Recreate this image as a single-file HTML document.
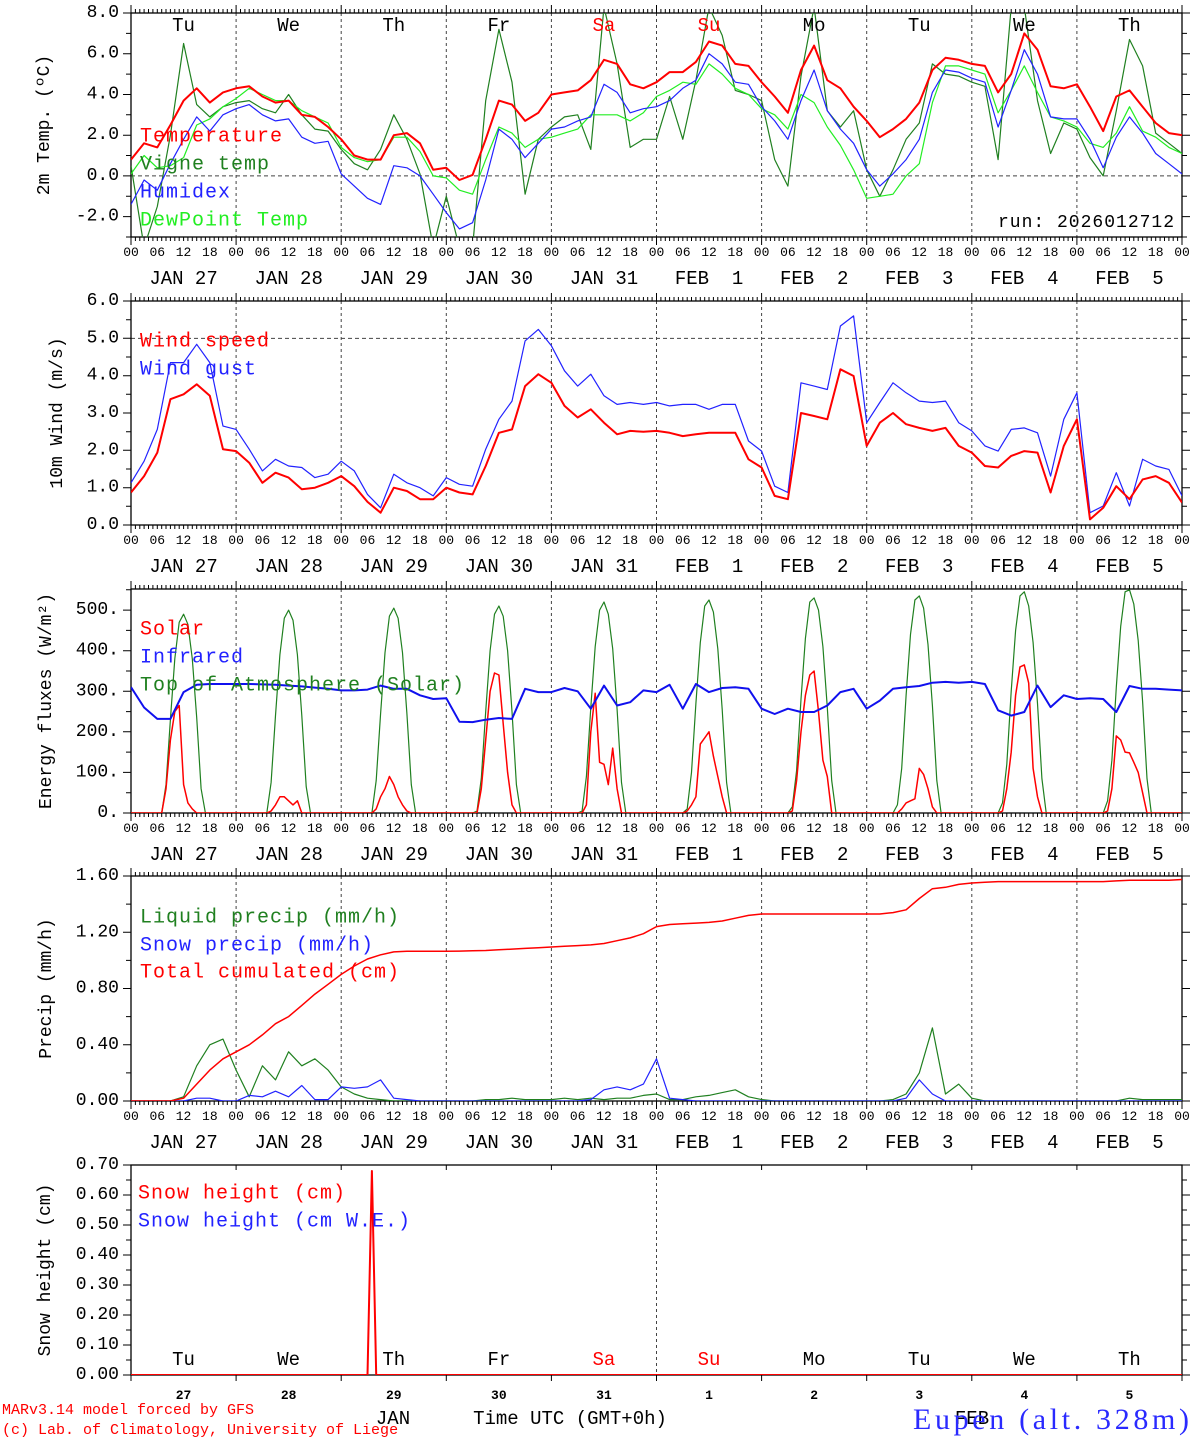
<!DOCTYPE html>
<html><head><meta charset="utf-8"><title>MAR meteogram Eupen</title>
<style>
html,body{margin:0;padding:0;background:#fff;}
svg{display:block;font-family:"Liberation Mono",monospace;}
</style></head>
<body>
<svg id="chart" xmlns="http://www.w3.org/2000/svg" width="1194" height="1440" viewBox="0 0 1194 1440">
<rect x="0" y="0" width="1194" height="1440" fill="#fff"/>
<text x="998" y="227" font-size="18" letter-spacing="1" fill="#000">run: 2026012712</text>
<text x="2" y="1414" font-size="15" fill="#f00">MARv3.14 model forced by GFS</text>
<text x="2" y="1434" font-size="15" fill="#f00">(c) Lab. of Climatology, University of Liege</text>
<text x="393" y="1424" font-size="19" text-anchor="middle" fill="#000">JAN</text>
<text x="972" y="1424" font-size="19" text-anchor="middle" fill="#000">FEB</text>
<text x="570" y="1424" font-size="19" text-anchor="middle" fill="#000">Time UTC (GMT+0h)</text>
<text x="913" y="1429" font-size="30" textLength="276" font-family="Liberation Serif,serif" fill="#2a2aff">Eupen (alt. 328m)</text>
</svg>
<script>
// ---------- data (3-hourly, 81 points from JAN 27 00 UTC) ----------
const dayNames = ['Tu','We','Th','Fr','Sa','Su','Mo','Tu','We','Th'];
const dateLabels = ['JAN 27','JAN 28','JAN 29','JAN 30','JAN 31','FEB  1','FEB  2','FEB  3','FEB  4','FEB  5'];
const dayNums = ['27','28','29','30','31','1','2','3','4','5'];
const hourLabels = ['00','06','12','18'];

const temp = [0.8,1.6,1.4,2.5,3.7,4.3,3.6,4.1, 4.3,4.4,3.9,3.6,3.7,3.0,2.9,2.4, 1.8,1.0,0.8,0.8,2.0,2.1,1.6,0.3, 0.4,-0.2,0.05,1.8,3.7,3.5,2.7,3.1, 4.0,4.1,4.2,4.7,5.7,5.5,4.5,4.3, 4.6,5.1,5.1,5.6,6.6,6.4,5.5,5.4, 4.6,3.9,3.1,5.2,6.4,4.7,4.3,3.4, 2.7,1.9,2.3,2.8,3.6,5.2,5.8,5.7, 5.5,5.4,4.1,5.0,7.0,6.2,4.4,4.3, 4.5,3.4,2.2,3.9,4.2,3.4,2.6,2.1,2.0];
const vigne = [0.5,-3.5,-1.5,2.0,6.5,3.5,2.9,3.4, 3.6,3.7,3.3,3.1,4.0,3.0,2.3,2.2, 1.3,0.6,0.3,1.3,3.0,1.8,0.1,-3.5, -1.0,-3.5,-3.5,3.7,7.2,4.6,-0.9,1.8, 2.4,2.9,3.0,1.3,8.3,5.5,1.4,1.8, 1.8,3.9,1.8,4.7,8.3,6.9,4.2,4.0, 3.7,0.8,-0.5,4.9,8.3,3.2,2.4,3.2, 0.3,-1.0,0.3,1.8,2.6,5.5,5.0,4.9, 4.6,4.4,0.8,8.3,8.3,3.7,1.1,2.6, 2.3,0.9,0.0,3.2,6.7,5.4,2.1,1.6,1.1];
const humidex = [-1.4,-0.2,-0.7,0.6,1.8,2.9,2.2,3.0, 3.3,3.5,3.0,2.7,2.8,1.9,1.6,1.7, 0.1,-0.5,-1.1,-1.4,0.5,0.4,0.0,-0.9, -1.8,-2.6,-2.3,-0.2,2.3,1.8,0.9,1.6, 2.3,2.4,2.7,2.9,4.5,4.1,3.1,3.3, 3.4,3.7,4.3,4.7,6.0,5.5,4.6,4.5, 3.4,2.7,1.8,3.7,5.2,3.2,2.3,1.6, 0.3,-0.5,0.1,0.8,1.8,4.1,5.2,5.1, 4.8,4.6,2.4,4.2,6.2,5.0,2.9,2.8, 2.8,1.8,0.4,1.9,2.9,2.1,1.1,0.6,0.1];
const dewpoint = [0.1,1.0,0.4,0.5,0.9,2.5,2.8,3.4, 3.8,4.3,4.0,3.7,3.7,3.2,2.9,2.6, 1.4,0.9,0.7,0.8,1.9,1.9,1.2,0.0, -0.1,-0.7,-0.9,0.8,2.4,2.1,1.4,1.8, 1.9,2.1,2.3,3.0,3.0,3.0,2.7,3.1, 3.9,4.2,4.6,4.5,5.5,5.0,4.3,4.0, 3.3,3.0,2.3,4.0,3.6,2.4,1.5,0.3, -1.1,-1.0,-0.9,0.0,0.6,3.6,5.4,5.4, 5.2,5.0,3.1,4.2,5.4,4.1,2.9,2.7, 2.4,1.6,1.4,2.1,3.4,2.2,1.9,1.4,1.1];

const windSpeed = [0.87,1.31,1.94,3.37,3.5,3.77,3.46,2.03, 1.98,1.67,1.13,1.40,1.27,0.96,1.0,1.13, 1.31,1.04,0.62,0.33,1.0,0.91,0.69,0.69, 1.0,0.87,0.82,1.58,2.47,2.56,3.72,4.04, 3.81,3.19,2.88,3.1,2.74,2.43,2.52,2.5, 2.52,2.47,2.38,2.43,2.47,2.47,2.47,1.76, 1.54,0.78,0.69,3.0,2.92,2.83,4.17,3.99, 2.12,2.74,3.0,2.7,2.6,2.52,2.6,2.12, 1.94,1.58,1.54,1.85,1.98,1.94,0.87,2.12, 2.83,0.15,0.46,1.04,0.69,1.22,1.31,1.13,0.6];
const windGust = [1.13,1.71,2.56,4.35,4.35,4.84,4.35,2.65, 2.56,2.03,1.45,1.76,1.58,1.54,1.27,1.36, 1.71,1.45,0.82,0.46,1.36,1.13,1.0,0.78, 1.27,1.09,1.04,2.03,2.83,3.32,4.93,5.24, 4.8,4.13,3.72,4.04,3.46,3.23,3.28,3.23, 3.28,3.19,3.23,3.23,3.1,3.23,3.23,2.25, 1.98,1.04,0.87,3.81,3.72,3.63,5.33,5.6, 2.74,3.28,3.81,3.54,3.32,3.28,3.32,2.74, 2.52,2.12,1.98,2.56,2.6,2.47,1.31,2.83, 3.54,0.33,0.51,1.4,0.51,1.76,1.58,1.49,0.78];

const infrared = [310,260,232,232,298,316,318,318, 318,318,317,316,314,312,309,306, 302,302,304,314,306,306,290,281, 283,225,224,230,234,232,306,298, 298,308,300,257,314,265,273,302, 298,316,257,318,298,308,310,306, 257,244,257,249,249,265,298,306, 257,277,306,310,313,321,323,321, 323,318,253,240,249,314,261,290, 281,283,281,249,313,306,306,304,302];

// hourly (241 points)
const toaSolar = [
0,0,0,0,0,0,0,0,70,230,380,470,490,465,380,235,60,0,0,0,0,0,0,0,
0,0,0,0,0,0,0,0,75,240,390,480,500,475,390,240,65,0,0,0,0,0,0,0,
0,0,0,0,0,0,0,0,80,245,395,485,505,480,395,245,70,0,0,0,0,0,0,0,
0,0,0,0,0,0,0,5,85,250,400,490,510,485,400,250,70,0,0,0,0,0,0,0,
0,0,0,0,0,0,0,5,90,260,410,500,520,490,405,255,75,0,0,0,0,0,0,0,
0,0,0,0,0,0,0,10,100,270,420,510,525,495,405,255,75,0,0,0,0,0,0,0,
0,0,0,0,0,0,0,15,105,280,430,520,530,500,410,260,80,0,0,0,0,0,0,0,
0,0,0,0,0,0,0,20,110,290,440,525,535,505,415,265,80,0,0,0,0,0,0,0,
0,0,0,0,0,0,0,25,120,300,450,535,545,510,420,270,85,0,0,0,0,0,0,0,
0,0,0,0,0,0,0,30,130,310,460,545,550,515,425,275,85,0,0,0,0,0,0,0,
0];
const solar = [
0,0,0,0,0,0,0,0,60,180,250,265,70,25,10,0,0,0,0,0,0,0,0,0,
0,0,0,0,0,0,0,0,5,20,40,40,30,20,30,0,0,0,0,0,0,0,0,0,
0,0,0,0,0,0,0,0,10,40,60,90,70,40,20,5,0,0,0,0,0,0,0,0,
0,0,0,0,0,0,0,0,60,180,300,345,340,220,100,20,0,0,0,0,0,0,0,0,
0,0,0,0,0,0,0,0,20,200,295,125,120,70,160,60,0,0,0,0,0,0,0,0,
0,0,0,0,0,0,0,5,20,40,170,185,200,140,90,40,0,0,0,0,0,0,0,0,
0,0,0,0,0,0,0,5,80,200,290,340,350,250,130,90,0,0,0,0,0,0,0,0,
0,0,0,0,0,0,0,0,10,25,30,35,110,95,60,15,0,0,0,0,0,0,0,0,
0,0,0,0,0,0,0,5,60,150,290,360,365,320,110,40,0,0,0,0,0,0,0,0,
0,0,0,0,0,0,0,5,60,190,180,150,148,125,100,50,0,0,0,0,0,0,0,0,
0];

const cumulPrecip = [0,0,0,0,0.02,0.12,0.22,0.30, 0.35,0.40,0.47,0.55,0.60,0.68,0.76,0.83, 0.90,0.96,1.01,1.04,1.06,1.065,1.065,1.065, 1.065,1.066,1.068,1.07,1.075,1.08,1.085,1.09, 1.095,1.10,1.105,1.11,1.12,1.14,1.16,1.19, 1.24,1.255,1.26,1.265,1.27,1.28,1.30,1.32, 1.33,1.33,1.33,1.33,1.33,1.33,1.33,1.33, 1.33,1.33,1.34,1.36,1.44,1.51,1.52,1.54, 1.55,1.555,1.56,1.56,1.56,1.56,1.56,1.56, 1.56,1.56,1.56,1.565,1.57,1.57,1.57,1.57,1.575];
const liquidPrecip = [0,0,0,0,0.03,0.25,0.40,0.44, 0.22,0.03,0.25,0.15,0.35,0.25,0.30,0.22, 0.10,0.05,0.02,0.01,0,0,0,0, 0,0,0,0.01,0.01,0.02,0.01,0.01, 0.01,0.02,0.01,0.02,0.01,0.02,0.02,0.04, 0.05,0.01,0.01,0.03,0.04,0.06,0.08,0.03, 0.01,0,0,0,0,0,0,0, 0,0,0.01,0.05,0.2,0.52,0.05,0.12, 0.02,0,0,0,0,0,0,0, 0,0,0,0,0.02,0.01,0.01,0.01,0.01];
const snowPrecip = [0,0,0,0,0,0.02,0.02,0, 0,0.04,0.03,0.07,0.03,0.11,0.01,0.01, 0.10,0.09,0.10,0.15,0.02,0.01,0,0, 0,0,0,0,0,0,0,0, 0,0,0,0.01,0.08,0.10,0.08,0.12, 0.30,0.02,0.01,0,0,0,0,0, 0,0,0,0,0,0,0,0, 0,0,0,0.02,0.15,0.05,0,0, 0,0,0,0,0,0,0,0, 0,0,0,0,0,0,0,0,0];

const snowHours = [0,54,55,56,240];
const snowHeight = [0,0,0.68,0,0];

// ---------- layout ----------
const svg = document.getElementById('chart');
const NS = 'http://www.w3.org/2000/svg';
const X0 = 131, X1 = 1182, HOURS = 240;
function xs(h){ return X0 + h*(X1-X0)/HOURS; }
function mk(tag, parent){ const e = document.createElementNS(NS, tag); (parent||svg).appendChild(e); return e; }

const panels = [
 {key:'temp', top:13, bottom:237, min:-3, max:8, major:2, minor:1, fmt:v=>v.toFixed(1), title:'2m Temp. (\u00BAC)', tx:45, hourAxis:true},
 {key:'wind', top:301, bottom:525, min:0, max:6, major:1, minor:0.5, fmt:v=>v.toFixed(1), title:'10m Wind (m/s)', tx:58, hourAxis:true},
 {key:'energy', top:589, bottom:813, min:0, max:552, major:100, minor:50, fmt:v=>v.toFixed(0)+'.', title:'Energy fluxes (W/m\u00B2)', tx:47, hourAxis:true},
 {key:'precip', top:876, bottom:1101, min:0, max:1.6, major:0.4, minor:0.2, fmt:v=>v.toFixed(2), title:'Precip (mm/h)', tx:47, hourAxis:true},
 {key:'snow', top:1165, bottom:1375, min:0, max:0.7, major:0.1, minor:0.05, fmt:v=>v.toFixed(2), title:'Snow height (cm)', tx:46, hourAxis:false}
];
panels.forEach(p=>{ p.y = v => p.bottom - (v-p.min)*(p.bottom-p.top)/(p.max-p.min); });

panels.forEach((p,pi)=>{
  const g = mk('g');
  
  
  const cp = mk('clipPath', g); cp.setAttribute('id','clip'+pi);
  const cr = mk('rect', cp); cr.setAttribute('x',X0); cr.setAttribute('y',p.top); cr.setAttribute('width',X1-X0); cr.setAttribute('height',p.bottom-p.top);
  p.g = g;
  for(let d=1; d<10; d++){
    if(p.key==='snow' && d!==5) continue;
    const l = mk('line', g);
    
    
    l.setAttribute('x1',xs(d*24)); l.setAttribute('x2',xs(d*24)); l.setAttribute('y1',p.top); l.setAttribute('y2',p.bottom);
    l.setAttribute('stroke','#444'); l.setAttribute('stroke-dasharray','3,3'); l.setAttribute('stroke-width','1');
  }
  let ref = p.key==='temp'?0:(p.key==='wind'?5:null);
  if(ref!==null){
    const l = mk('line', g);
    
    
    l.setAttribute('x1',X0); l.setAttribute('x2',X1); l.setAttribute('y1',p.y(ref)); l.setAttribute('y2',p.y(ref));
    l.setAttribute('stroke','#444'); l.setAttribute('stroke-dasharray','4,3');
  }
  const fr = mk('rect', g);
  
  
  fr.setAttribute('x',X0); fr.setAttribute('y',p.top); fr.setAttribute('width',X1-X0); fr.setAttribute('height',p.bottom-p.top);
  fr.setAttribute('fill','none'); fr.setAttribute('stroke','#000'); fr.setAttribute('stroke-width','1.3');
  let td = '';
  if(p.hourAxis){
    for(let h=0; h<=HOURS; h++){
      const len = (h%24===0)?8:4; const x = xs(h).toFixed(1);
      td += `M${x} ${p.top}v${-len}M${x} ${p.bottom}v${len}`;
    }
  } else {
    for(let d=0; d<=10; d++){ const x = xs(d*24).toFixed(1); td += `M${x} ${p.bottom}v6M${x} ${p.top}v5`; }
  }
  const eps=1e-6;
  for(let v=Math.ceil(p.min/p.minor)*p.minor; v<=p.max+eps; v+=p.minor){
    const isMaj = Math.abs(v/p.major - Math.round(v/p.major))<1e-4;
    const len = isMaj?8:5; const y = p.y(v).toFixed(1);
    td += `M${X0} ${y}h${-len}M${X1} ${y}h${len}`;
    if(isMaj){
      const t = mk('text', g);
      
      
      t.setAttribute('x',119); t.setAttribute('y',p.y(v)); t.setAttribute('text-anchor','end'); t.setAttribute('dominant-baseline','central');
      t.setAttribute('font-size','18');
      t.textContent = p.fmt(v);
    }
  }
  const tk = mk('path', g);
  
  
  tk.setAttribute('d', td); tk.setAttribute('stroke','#000'); tk.setAttribute('stroke-width','1');
  if(p.hourAxis){
    for(let h=0; h<=HOURS; h+=6){
      const t = mk('text', g);
      
      
      t.setAttribute('x', xs(h)); t.setAttribute('y', p.bottom+19); t.setAttribute('text-anchor','middle'); t.setAttribute('font-size','13');
      t.textContent = hourLabels[(h/6)%4];
    }
    for(let d=0; d<10; d++){
      const t = mk('text', g);
      
      
      t.setAttribute('x', xs(d*24+12)); t.setAttribute('y', p.bottom+47); t.setAttribute('text-anchor','middle'); t.setAttribute('font-size','19');
      t.setAttribute('xml:space','preserve'); t.style.whiteSpace='pre';
      t.textContent = dateLabels[d];
    }
  }
  const yt = mk('text', g);
  
  
  yt.setAttribute('transform', `translate(${p.tx},${(p.top+p.bottom)/2}) rotate(-90)`);
  yt.setAttribute('text-anchor','middle'); yt.setAttribute('dominant-baseline','central'); yt.setAttribute('font-size','18');
  yt.textContent = p.title;
});

function series(p, pi, times, vals, color, width, name){
  let d='';
  vals.forEach((v,i)=>{ d += (i?'L':'M') + xs(times[i]).toFixed(1) + ' ' + p.y(v).toFixed(1); });
  const path = mk('path', p.g);
  
  
  path.setAttribute('d', d); path.setAttribute('fill','none'); path.setAttribute('stroke',color);
  path.setAttribute('stroke-width', width); path.setAttribute('stroke-linejoin','round');
  path.setAttribute('clip-path', `url(#clip${pi})`);
}
const t3 = temp.map((_,i)=>i*3);
const t1 = toaSolar.map((_,i)=>i);

series(panels[0],0,t3,vigne,'#208020',1.2,'vigne-temp-line');
series(panels[0],0,t3,dewpoint,'#22ee22',1.2,'dewpoint-line');
series(panels[0],0,t3,humidex,'#2222ff',1.2,'humidex-line');
series(panels[0],0,t3,temp,'#ff0000',2,'temperature-line');

series(panels[1],1,t3,windGust,'#2222ff',1.2,'wind-gust-line');
series(panels[1],1,t3,windSpeed,'#ff0000',2,'wind-speed-line');

series(panels[2],2,t1,toaSolar,'#208020',1.2,'toa-solar-line');
series(panels[2],2,t1,solar,'#ff0000',1.5,'solar-line');
series(panels[2],2,t3,infrared,'#1010ee',2,'infrared-line');

series(panels[3],3,t3,liquidPrecip,'#208020',1.2,'liquid-precip-line');
series(panels[3],3,t3,snowPrecip,'#2222ff',1.2,'snow-precip-line');
series(panels[3],3,t3,cumulPrecip,'#ff0000',1.5,'cumulated-precip-line');

series(panels[4],4,snowHours,snowHeight,'#ff0000',2,'snow-height-line');

function legend(p, x, y, text, color, name){
  const t = mk('text', p.g);
  
  
  t.setAttribute('x', x); t.setAttribute('y', y); t.setAttribute('dominant-baseline','central');
  t.setAttribute('font-size','20'); t.setAttribute('letter-spacing','1'); t.setAttribute('fill', color);
  t.textContent = text;
}
legend(panels[0],140,137,'Temperature','#ff0000','legend-temperature');
legend(panels[0],140,165,'Vigne temp','#208020','legend-vigne');
legend(panels[0],140,193,'Humidex','#2222ff','legend-humidex');
legend(panels[0],140,221,'DewPoint Temp','#22ee22','legend-dewpoint');
legend(panels[1],140,342,'Wind speed','#ff0000','legend-wind-speed');
legend(panels[1],140,370,'Wind gust','#2222ff','legend-wind-gust');
legend(panels[2],140,630,'Solar','#ff0000','legend-solar');
legend(panels[2],140,658,'Infrared','#2222ff','legend-infrared');
legend(panels[2],140,686,'Top of Atmosphere (Solar)','#208020','legend-toa');
legend(panels[3],140,918,'Liquid precip (mm/h)','#208020','legend-liquid');
legend(panels[3],140,946,'Snow precip (mm/h)','#2222ff','legend-snow-precip');
legend(panels[3],140,973,'Total cumulated (cm)','#ff0000','legend-cumulated');
legend(panels[4],138,1194,'Snow height (cm)','#ff0000','legend-snow-height');
legend(panels[4],138,1222,'Snow height (cm W.E.)','#2222ff','legend-snow-we');

for(let d=0; d<10; d++){
  const red = (dayNames[d]==='Sa'||dayNames[d]==='Su');
  [26,1360].forEach((yy,k)=>{
    const t = mk('text', panels[k?4:0].g);
    
    
    t.setAttribute('x', xs(d*24+12)); t.setAttribute('y', yy); t.setAttribute('text-anchor','middle'); t.setAttribute('dominant-baseline','central');
    t.setAttribute('font-size','19'); t.setAttribute('fill', red?'#ff0000':'#000');
    t.textContent = dayNames[d];
  });
  const n = mk('text', panels[4].g);
  
  
  n.setAttribute('x', xs(d*24+12)); n.setAttribute('y', 1399); n.setAttribute('text-anchor','middle'); n.setAttribute('font-size','13'); n.setAttribute('font-weight','bold');
  n.textContent = dayNums[d];
}
</script>
</body></html>
